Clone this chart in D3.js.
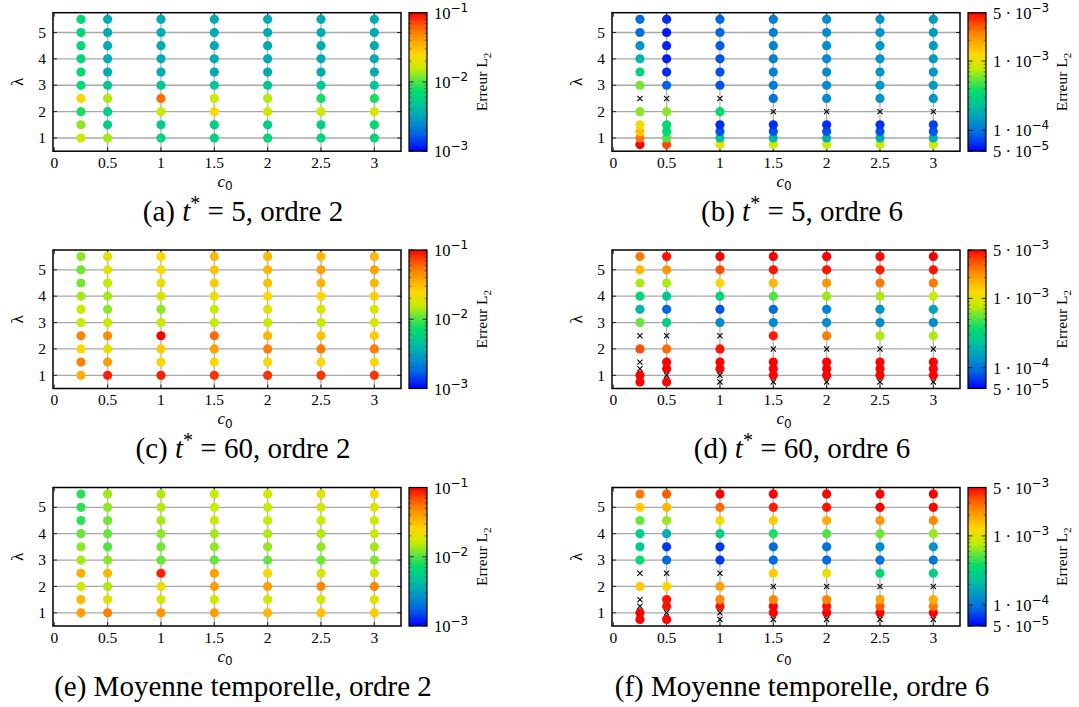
<!DOCTYPE html>
<html><head><meta charset="utf-8">
<script src="https://cdn.jsdelivr.net/npm/d3@7"></script>
<style>body{margin:0;background:#fff}svg{display:block}</style>
</head><body><svg id="chart" width="1079" height="707"></svg>
<script>
// ---------- DATA ----------
const c0Values = [0.25, 0.5, 1, 1.5, 2, 2.5, 3];
const lambdaOrder2 = [1, 1.5, 2, 2.5, 3, 3.5, 4, 4.5, 5, 5.5];
const lambdaOrder6 = [0.75, 1, 1.25, 1.5, 2, 2.5, 3, 3.5, 4, 4.5, 5, 5.5];
const xTickValues = [0, 0.5, 1, 1.5, 2, 2.5, 3];
const xTickLabels = ["0", "0.5", "1", "1.5", "2", "2.5", "3"];
const yTickValues = [1, 2, 3, 4, 5];

// colour bar ranges and ticks
const rangeOrder2 = [1e-3, 1e-1];
const rangeOrder6 = [5e-5, 5e-3];
const cbTicksOrder2 = [1e-3, 1e-2, 1e-1];
const cbTickMant2 = ["", "", ""];
const cbTickExp2 = ["−3", "−2", "−1"];
const cbMinorOrder2 = [2e-3,3e-3,4e-3,5e-3,6e-3,7e-3,8e-3,9e-3,2e-2,3e-2,4e-2,5e-2,6e-2,7e-2,8e-2,9e-2];
const cbTicksOrder6 = [5e-5, 1e-4, 1e-3, 5e-3];
const cbTickMant6 = ["5", "1", "1", "5"];
const cbTickExp6 = ["−5", "−4", "−3", "−3"];
const cbMinorOrder6 = [6e-5,7e-5,8e-5,9e-5,2e-4,3e-4,4e-4,5e-4,6e-4,7e-4,8e-4,9e-4,2e-3,3e-3,4e-3];

// error values: one row per lambda (ascending), one column per c0; null = diverged (cross)
const errA = [
  [1.58e-2, 1.38e-2, 6.3e-3, 6.3e-3, 6.3e-3, 6.3e-3, 6.3e-3],
  [1.26e-2, 5.5e-3, 5.5e-3, 5.5e-3, 5.8e-3, 5.8e-3, 6.9e-3],
  [7.9e-3, 5.5e-3, 1.58e-2, 2.5e-2, 1.74e-2, 1.74e-2, 1.9e-2],
  [2.5e-2, 1.45e-2, 5.75e-2, 1.58e-2, 1.45e-2, 7.9e-3, 7.9e-3],
  [6.9e-3, 4.6e-3, 5.0e-3, 5.0e-3, 5.0e-3, 5.0e-3, 5.0e-3],
  [6.9e-3, 3.5e-3, 3.5e-3, 3.5e-3, 3.5e-3, 3.5e-3, 3.5e-3],
  [6.9e-3, 3.5e-3, 3.5e-3, 3.5e-3, 3.5e-3, 3.5e-3, 3.5e-3],
  [6.9e-3, 3.5e-3, 3.5e-3, 3.5e-3, 3.5e-3, 3.5e-3, 3.5e-3],
  [6.9e-3, 3.5e-3, 3.5e-3, 3.5e-3, 3.5e-3, 3.5e-3, 3.5e-3],
  [6.9e-3, 3.5e-3, 3.5e-3, 3.5e-3, 3.5e-3, 3.5e-3, 3.5e-3]
];
const errC = [
  [3.6e-2, 8.7e-2, 8.7e-2, 7.9e-2, 7.9e-2, 7.9e-2, 7.9e-2],
  [5.0e-2, 4.0e-2, 2.5e-2, 2.5e-2, 2.5e-2, 2.5e-2, 2.5e-2],
  [2.5e-2, 2.0e-2, 2.75e-2, 4.0e-2, 5.0e-2, 5.2e-2, 5.2e-2],
  [5.0e-2, 4.6e-2, 1.0e-1, 5.75e-2, 3.3e-2, 3.0e-2, 2.75e-2],
  [1.58e-2, 1.58e-2, 1.58e-2, 1.58e-2, 1.58e-2, 1.58e-2, 1.74e-2],
  [1.58e-2, 1.26e-2, 1.3e-2, 1.58e-2, 1.82e-2, 1.82e-2, 1.9e-2],
  [1.38e-2, 1.38e-2, 1.82e-2, 2.1e-2, 2.5e-2, 2.5e-2, 2.75e-2],
  [1.15e-2, 1.58e-2, 2.1e-2, 2.75e-2, 3.0e-2, 3.3e-2, 3.3e-2],
  [1.15e-2, 1.9e-2, 2.3e-2, 3.0e-2, 3.3e-2, 4.0e-2, 4.0e-2],
  [1.26e-2, 1.9e-2, 2.5e-2, 3.3e-2, 3.3e-2, 3.3e-2, 3.3e-2]
];
const errE = [
  [4.0e-2, 5.0e-2, 4.4e-2, 4.0e-2, 3.3e-2, 3.0e-2, 2.75e-2],
  [3.3e-2, 1.9e-2, 1.74e-2, 1.74e-2, 1.74e-2, 1.74e-2, 1.82e-2],
  [1.58e-2, 1.45e-2, 2.1e-2, 4.0e-2, 4.0e-2, 4.8e-2, 4.8e-2],
  [3.6e-2, 3.3e-2, 8.7e-2, 4.0e-2, 2.5e-2, 1.74e-2, 1.74e-2],
  [1.38e-2, 1.26e-2, 1.1e-2, 1.1e-2, 1.1e-2, 1.15e-2, 1.2e-2],
  [1.26e-2, 1.0e-2, 1.15e-2, 1.26e-2, 1.3e-2, 1.3e-2, 1.38e-2],
  [1.1e-2, 1.1e-2, 1.26e-2, 1.38e-2, 1.45e-2, 1.45e-2, 1.58e-2],
  [8.7e-3, 1.15e-2, 1.38e-2, 1.58e-2, 1.58e-2, 1.58e-2, 1.74e-2],
  [8.7e-3, 1.26e-2, 1.45e-2, 1.58e-2, 1.58e-2, 1.74e-2, 1.9e-2],
  [8.7e-3, 1.38e-2, 1.45e-2, 1.58e-2, 1.74e-2, 1.9e-2, 2.5e-2]
];
const errB = [
  [5e-3, 3.6e-3, 1.0e-3, 7.9e-4, 7.9e-4, 7.9e-4, 7.9e-4],
  [2.6e-3, 5.0e-4, 2.3e-4, 2.0e-4, 1.82e-4, 1.82e-4, 1.82e-4],
  [1.5e-3, 3.5e-4, 7.9e-5, 7.9e-5, 7.9e-5, 7.9e-5, 7.9e-5],
  [1.1e-3, 3.5e-4, 6.3e-5, 6.3e-5, 6.3e-5, 6.6e-5, 7.2e-5],
  [6.3e-4, 6.3e-4, 3.5e-4, null, null, null, null],
  [null, null, null, 1.0e-4, 1.26e-4, 1.38e-4, 1.38e-4],
  [5.75e-4, 8.7e-5, 7.9e-5, 1.1e-4, 1.26e-4, 1.38e-4, 1.45e-4],
  [3.2e-4, 6.3e-5, 7.9e-5, 1.15e-4, 1.26e-4, 1.38e-4, 1.45e-4],
  [2.0e-4, 6.0e-5, 7.9e-5, 1.15e-4, 1.26e-4, 1.38e-4, 1.45e-4],
  [1.38e-4, 6.0e-5, 8.3e-5, 1.15e-4, 1.26e-4, 1.38e-4, 1.45e-4],
  [9.5e-5, 5.7e-5, 8.7e-5, 1.1e-4, 1.26e-4, 1.38e-4, 1.45e-4],
  [9.5e-5, 6.3e-5, 8.7e-5, 1.1e-4, 1.26e-4, 1.38e-4, 1.45e-4]
];
const errD = [
  [5e-3, 5e-3, null, null, null, null, null],
  [5e-3, null, null, 5e-3, 5e-3, 5e-3, 5e-3],
  [null, 5e-3, 5e-3, 5e-3, 5e-3, 5e-3, 5e-3],
  [null, 5e-3, 5e-3, 5e-3, 5e-3, 5e-3, 5e-3],
  [3.45e-3, 2.9e-3, 4.6e-3, null, null, null, null],
  [null, null, null, 4.4e-3, 2.6e-3, 7.2e-4, 7.2e-4],
  [5.5e-4, 2.9e-4, 1.26e-4, 1.26e-4, 1.26e-4, 1.26e-4, 1.26e-4],
  [2.0e-4, 8.7e-5, 7.9e-5, 9.5e-5, 1.15e-4, 1.38e-4, 1.58e-4],
  [3.2e-4, 2.5e-4, 3.2e-4, 5.0e-4, 6.6e-4, 7.2e-4, 7.9e-4],
  [7.2e-4, 7.2e-4, 1.26e-3, 1.65e-3, 2.2e-3, 2.6e-3, 2.6e-3],
  [1.65e-3, 2.2e-3, 3.45e-3, 4.6e-3, 4.6e-3, 4.4e-3, 4.6e-3],
  [2.6e-3, 4.6e-3, 5e-3, 5e-3, 5e-3, 4.8e-3, 5e-3]
];
const errF = [
  [5e-3, 5e-3, null, null, null, null, null],
  [5e-3, null, null, 5e-3, 5e-3, 5e-3, 5e-3],
  [null, 4.6e-3, 4.6e-3, 5e-3, 4.6e-3, 3.15e-3, 2.6e-3],
  [null, 4.6e-3, 2.4e-3, 2.4e-3, 2.4e-3, 2.0e-3, 1.8e-3],
  [1.38e-3, 1.26e-3, 2.0e-3, null, null, null, null],
  [null, null, null, 1.38e-3, 1.05e-3, 3.5e-4, 2.9e-4],
  [3.5e-4, 9.5e-5, 6.9e-5, 9.5e-5, 9.5e-5, 1.0e-4, 1.0e-4],
  [2.6e-4, 6.9e-5, 6.9e-5, 9.5e-5, 1.0e-4, 1.26e-4, 1.38e-4],
  [2.9e-4, 1.82e-4, 2.9e-4, 4.0e-4, 5.0e-4, 5.75e-4, 6.6e-4],
  [5.5e-4, 6.6e-4, 1.05e-3, 1.38e-3, 1.8e-3, 2.2e-3, 2.4e-3],
  [1.38e-3, 1.65e-3, 2.9e-3, 4.4e-3, 4.6e-3, 5e-3, 5e-3],
  [2.6e-3, 3.15e-3, 5e-3, 5e-3, 5e-3, 5e-3, 5e-3]
];

const captionLetters = ["a", "b", "c", "d", "e", "f"];
const captionTimes = ["5", "5", "60", "60", null, null];
const captionOrders = ["2", "6", "2", "6", "2", "6"];

// colormap
const cmapStops = [0, 0.12, 0.22, 0.33, 0.43, 0.52, 0.60, 0.70, 0.82, 0.92, 1];
const cmapColors = ["#0000ff", "#0064e6", "#0096c8", "#00c39b", "#00dc6e", "#64e63c", "#c8eb00", "#ffd700", "#ff9600", "#ff5000", "#ff0000"];

// ---------- DRAW ----------
const svg = d3.select("#chart");
const serif = "'Liberation Serif', 'DejaVu Serif', serif";
const cmap = d3.scaleLinear().domain(cmapStops).range(cmapColors).interpolate(d3.interpolateRgb).clamp(true);

// gradient
const defs = svg.append("defs");
const grad = defs.append("linearGradient").attr("id", "cbgrad")
  .attr("x1", 0).attr("y1", 1).attr("x2", 0).attr("y2", 0);
d3.range(0, 1.0001, 0.02).forEach(t => grad.append("stop").attr("offset", t).attr("stop-color", cmap(t)));

const plotW = 348, plotH = 138.5;
const colLeft = [53, 612];
const rowTop = [12.7, 250, 487.5];
const panels = [
  {data: errA, lam: lambdaOrder2, order: 2},
  {data: errB, lam: lambdaOrder6, order: 6},
  {data: errC, lam: lambdaOrder2, order: 2},
  {data: errD, lam: lambdaOrder6, order: 6},
  {data: errE, lam: lambdaOrder2, order: 2},
  {data: errF, lam: lambdaOrder6, order: 6}
];

panels.forEach((p, idx) => {
  const left = colLeft[idx % 2], top = rowTop[Math.floor(idx / 2)];
  const g = svg.append("g");
  const x = d3.scaleLinear().domain([-0.012, 3.25]).range([left, left + plotW]);
  const y = d3.scaleLinear().domain([0.5, 5.75]).range([top + plotH, top]);
  const range = p.order === 2 ? rangeOrder2 : rangeOrder6;
  const logScale = d3.scaleLog().domain(range).range([0, 1]).clamp(true);

  // grid
  g.selectAll(".vg").data(xTickValues.slice(1)).join("line")
    .attr("x1", d => x(d)).attr("x2", d => x(d)).attr("y1", top).attr("y2", top + plotH)
    .attr("stroke", "#b4b4b4").attr("stroke-width", 1.3);
  g.selectAll(".hg").data(yTickValues).join("line")
    .attr("x1", left).attr("x2", left + plotW).attr("y1", d => y(d)).attr("y2", d => y(d))
    .attr("stroke", "#a8a8a8").attr("stroke-width", 1.3);

  // ticks inside
  xTickValues.forEach(v => {
    g.append("line").attr("x1", x(v)).attr("x2", x(v)).attr("y1", top + plotH).attr("y2", top + plotH - 4).attr("stroke", "#000").attr("stroke-width", 0.8);
    g.append("line").attr("x1", x(v)).attr("x2", x(v)).attr("y1", top).attr("y2", top + 4).attr("stroke", "#000").attr("stroke-width", 0.8);
  });
  yTickValues.forEach(v => {
    g.append("line").attr("x1", left).attr("x2", left + 4).attr("y1", y(v)).attr("y2", y(v)).attr("stroke", "#000").attr("stroke-width", 0.8);
    g.append("line").attr("x1", left + plotW).attr("x2", left + plotW - 4).attr("y1", y(v)).attr("y2", y(v)).attr("stroke", "#000").attr("stroke-width", 0.8);
  });

  // points
  const pts = [];
  p.lam.forEach((l, i) => c0Values.forEach((c, j) => pts.push({c, l, v: p.data[i][j]})));
  g.selectAll(".dot").data(pts.filter(d => d.v !== null)).join("circle")
    .attr("cx", d => x(d.c)).attr("cy", d => y(d.l)).attr("r", 4.6)
    .attr("fill", d => cmap(logScale(d.v)));
  const cs = 2.6;
  pts.filter(d => d.v === null).forEach(d => {
    const cx = x(d.c), cy = y(d.l);
    g.append("path").attr("d", `M${cx-cs},${cy-cs}L${cx+cs},${cy+cs}M${cx-cs},${cy+cs}L${cx+cs},${cy-cs}`)
      .attr("stroke", "#000").attr("stroke-width", 1.1).attr("fill", "none");
  });

  // frame
  g.append("rect").attr("x", left).attr("y", top).attr("width", plotW).attr("height", plotH)
    .attr("fill", "none").attr("stroke", "#000").attr("stroke-width", 1.5);

  // tick labels
  g.selectAll(".xl").data(xTickValues).join("text")
    .attr("x", d => x(d)).attr("y", top + plotH + 16.5).attr("text-anchor", "middle")
    .attr("font-family", serif).attr("font-size", 15.5).text((d, i) => xTickLabels[i]);
  g.selectAll(".yl").data(yTickValues).join("text")
    .attr("x", left - 7).attr("y", d => y(d) + 5.2).attr("text-anchor", "end")
    .attr("font-family", serif).attr("font-size", 15.5).text(d => d);

  // axis labels
  const xl = g.append("text").attr("x", left + plotW / 2 - 2).attr("y", top + plotH + 35.5)
    .attr("text-anchor", "middle").attr("font-family", serif).attr("font-size", 17);
  xl.append("tspan").attr("font-style", "italic").text("c");
  xl.append("tspan").attr("dy", 3.5).attr("font-size", 12).attr("font-family", "'DejaVu Sans', sans-serif").text("0");
  g.append("text").attr("transform", `translate(${left - 30},${top + plotH / 2}) rotate(-90)`)
    .attr("text-anchor", "middle").attr("font-family", serif).attr("font-size", 17).text("λ");

  // colorbar
  const cbL = left + plotW + 8, cbW = 18;
  const cy = d3.scaleLog().domain(range).range([top + plotH, top]);
  g.append("rect").attr("x", cbL).attr("y", top).attr("width", cbW).attr("height", plotH).attr("fill", "url(#cbgrad)");
  const minors = p.order === 2 ? cbMinorOrder2 : cbMinorOrder6;
  const majors = p.order === 2 ? cbTicksOrder2 : cbTicksOrder6;
  minors.forEach(v => {
    g.append("line").attr("x1", cbL).attr("x2", cbL + 2.5).attr("y1", cy(v)).attr("y2", cy(v)).attr("stroke", "#333").attr("stroke-width", 0.6);
    g.append("line").attr("x1", cbL + cbW).attr("x2", cbL + cbW - 2.5).attr("y1", cy(v)).attr("y2", cy(v)).attr("stroke", "#333").attr("stroke-width", 0.6);
  });
  majors.forEach(v => {
    g.append("line").attr("x1", cbL).attr("x2", cbL + 4.5).attr("y1", cy(v)).attr("y2", cy(v)).attr("stroke", "#000").attr("stroke-width", 0.8);
    g.append("line").attr("x1", cbL + cbW).attr("x2", cbL + cbW - 4.5).attr("y1", cy(v)).attr("y2", cy(v)).attr("stroke", "#000").attr("stroke-width", 0.8);
  });
  g.append("rect").attr("x", cbL).attr("y", top).attr("width", cbW).attr("height", plotH)
    .attr("fill", "none").attr("stroke", "#000").attr("stroke-width", 1.2);

  const mant = p.order === 2 ? cbTickMant2 : cbTickMant6;
  const exps = p.order === 2 ? cbTickExp2 : cbTickExp6;
  majors.forEach((v, i) => {
    const t = g.append("text").attr("x", cbL + cbW + 7).attr("y", cy(v) + 6)
      .attr("font-family", serif).attr("font-size", 16.5);
    if (mant[i]) t.append("tspan").text(mant[i] + " · 10");
    else t.append("tspan").text("10");
    t.append("tspan").attr("dy", -7).attr("font-size", 12).attr("font-family", "'DejaVu Sans', sans-serif").text(exps[i]);
  });
  const labX = cbL + cbW + (p.order === 2 ? 60 : 81);
  const lab = g.append("text").attr("transform", `translate(${labX},${top + plotH / 2}) rotate(-90)`)
    .attr("text-anchor", "middle").attr("font-family", serif).attr("font-size", 15.5);
  lab.append("tspan").text("Erreur L");
  lab.append("tspan").attr("dy", 4).attr("font-size", 11).text("2");

  // caption
  const capX = idx % 2 === 0 ? 243 : 802;
  const cap = g.append("text").attr("x", capX).attr("y", top + 208).attr("text-anchor", "middle")
    .attr("font-family", serif).attr("font-size", 29);
  cap.append("tspan").text(`(${captionLetters[idx]}) `);
  if (captionTimes[idx] !== null) {
    cap.append("tspan").attr("font-style", "italic").text("t");
    cap.append("tspan").attr("dy", -11).attr("font-size", 20).text("*");
    cap.append("tspan").attr("dy", 11).text(` = ${captionTimes[idx]}, ordre ${captionOrders[idx]}`);
  } else {
    cap.append("tspan").text(`Moyenne temporelle, ordre ${captionOrders[idx]}`);
  }
});
</script></body></html>
